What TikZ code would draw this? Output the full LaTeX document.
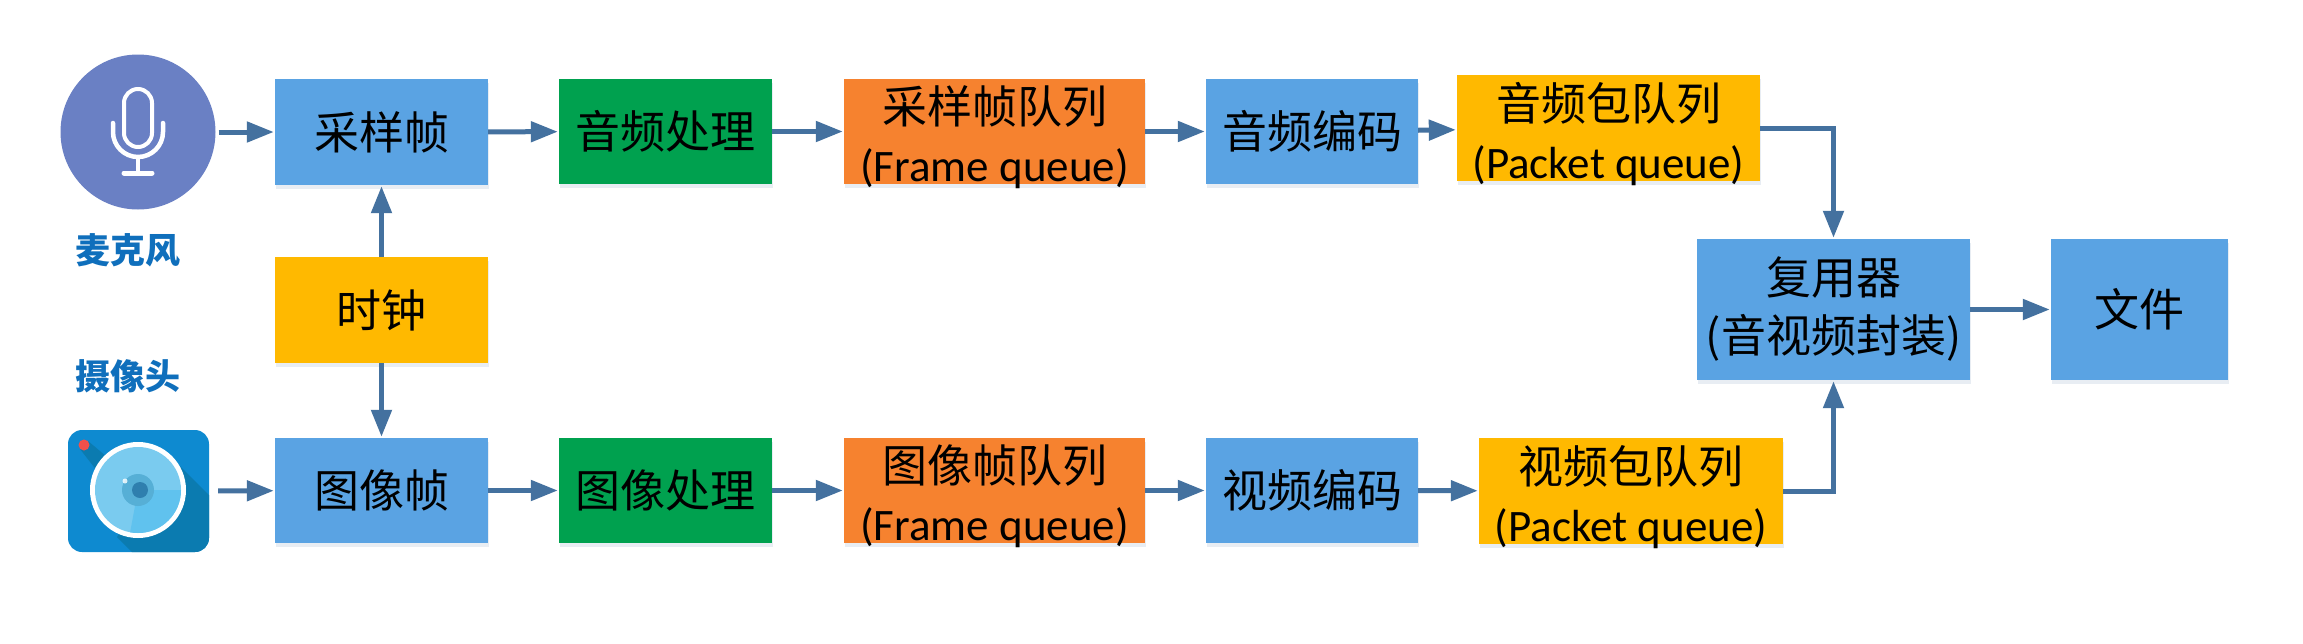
\documentclass[tikz,border=0pt]{standalone}
\usepackage{fontspec}
\setmainfont{Carlito}
\newfontfamily\cjk{Noto Sans CJK SC}
\usetikzlibrary{arrows.meta,shadows,calc}
\definecolor{boxblue}{HTML}{5AA3E3}
\definecolor{boxgreen}{HTML}{00A14F}
\definecolor{boxorange}{HTML}{F6822F}
\definecolor{boxyellow}{HTML}{FFB900}
\definecolor{arrowblue}{HTML}{44719F}
\definecolor{micblue}{HTML}{6A80C4}
\definecolor{labelblue}{HTML}{0F6FBC}
\definecolor{cambase}{HTML}{0E8AD0}
\definecolor{camdark}{HTML}{0B7BB0}
\definecolor{lens}{HTML}{7ACBEF}
\definecolor{lenslight}{HTML}{60C2EE}
\definecolor{iris}{HTML}{56AFD6}
\definecolor{pupil}{HTML}{2F7FAE}
\definecolor{camred}{HTML}{F2504B}
\tikzset{
  x=1pt,y=-1pt,
  boxbase/.style={rectangle,inner sep=0pt,align=center,text=black,
    font=\fontsize{45}{58}\selectfont\cjk,
    drop shadow={shadow xshift=1pt,shadow yshift=-4pt,opacity=.12,fill=arrowblue}},
  bluebox/.style={boxbase,fill=boxblue},
  greenbox/.style={boxbase,fill=boxgreen},
  orangebox/.style={boxbase,fill=boxorange,inner ysep=-12pt},
  yellowbox/.style={boxbase,fill=boxyellow,inner ysep=-12pt},
  conn/.style={draw=arrowblue,line width=5pt,shorten >=1pt,-{Triangle[length=27pt,width=20pt]}},
  devlabel/.style={text=labelblue,font=\fontsize{35}{38}\selectfont\cjk\bfseries,inner sep=0pt},
}
\newcommand{\en}[1]{{\fontsize{45}{58}\selectfont\rmfamily #1}}
\newcommand{\lowstrut}{\rule{0pt}{50pt}}
\newcommand{\boxat}[7]{\node[#1,minimum width=#5-#3,minimum height=#6-#4] (#2) at ({(#3+#5)/2},{(#4+#6)/2}) {#7};}
\begin{document}
\begin{tikzpicture}
\useasboundingbox (0,0) rectangle (2303,643);
\fill[white] (0,0) rectangle (2303,643);
% mic
\node[circle,fill=micblue,minimum size=155pt,inner sep=0pt] (mic) at (138,132) {};
\draw[white,line width=4pt] (124,103) arc[start angle=180,end angle=360,radius=14] -- (152,133) arc[start angle=0,end angle=180,radius=14] -- cycle;
\draw[white,line width=4.5pt,line cap=round] (113,123) -- (113,132) arc[start angle=180,end angle=0,radius=25] -- (163,123);
\draw[white,line width=4.5pt] (138,157) -- (138,173);
\draw[white,line width=5pt,line cap=round] (124,173) -- (152,173);
\node[devlabel] (miclabel) at (128,250) {麦克风};
\node[devlabel] (camlabel) at (128,376) {摄像头};
% camera
\node[rectangle,rounded corners=14pt,fill=cambase,minimum width=141pt,minimum height=122pt,inner sep=0pt] (cam) at (138.5,491) {};
\begin{scope}
\clip[rounded corners=14pt] (68,430) rectangle (209,552);
\fill[camdark] (172,458) -- (240,526) -- (240,600) -- (180,600) -- (117,537) -- cycle;
\fill[camdark] (84,441) -- (88,441) -- (125,472) -- (108,485) -- (80,449) -- cycle;
\end{scope}
\fill[camred] (84,445) circle[radius=5.5];
\fill[white] (138,490) circle[radius=48];
\fill[lens] (138,490) circle[radius=43];
\begin{scope}
\clip (138,490) circle[radius=43];
\fill[lenslight] (138,490) -- (200,490) -- (200,560) -- (125,560) -- cycle;
\end{scope}
\fill[iris] (138,490) circle[radius=16];
\fill[pupil] (140,490) circle[radius=8];
\fill[white,opacity=.8] (125,481) circle[radius=2.5];
% boxes
\boxat{bluebox}{caiyang}{275}{79}{488}{185}{采样帧}
\boxat{yellowbox}{clock}{275}{257}{488}{363}{时钟}
\boxat{bluebox}{tuxiang}{275}{438}{488}{543}{图像帧}
\boxat{greenbox}{aproc}{559}{79}{772}{184}{音频处理}
\boxat{greenbox}{vproc}{559}{438}{772}{543}{图像处理}
\boxat{orangebox}{afq}{844}{79}{1145}{184}{\lowstrut 采样帧队列\\\en{(Frame queue)}}
\boxat{orangebox}{vfq}{844}{438}{1145}{543}{\lowstrut 图像帧队列\\\en{(Frame queue)}}
\boxat{bluebox}{aenc}{1206}{79}{1418}{184}{音频编码}
\boxat{bluebox}{venc}{1206}{438}{1418}{543}{视频编码}
\boxat{yellowbox}{apq}{1457}{75}{1760}{181}{\lowstrut 音频包队列\\\en{(Packet queue)}}
\boxat{yellowbox}{vpq}{1479}{438}{1783}{544}{\lowstrut 视频包队列\\\en{(Packet queue)}}
\boxat{bluebox}{mux}{1697}{239}{1970}{380}{复用器\\(音视频封装)}
\boxat{bluebox}{file}{2051}{239}{2228}{380}{文件}
% connectors
\draw[conn,shorten <=3pt] (mic) -- (caiyang);
\draw[conn,shorten <=9pt] (cam) -- (tuxiang);
\draw[conn] (clock) -- (caiyang);
\draw[conn] (clock) -- (tuxiang);
\draw[conn] (caiyang) -- (aproc);
\draw[conn] (aproc) -- (afq);
\draw[conn] (afq) -- (aenc);
\draw[conn] (aenc) -- (apq);
\draw[conn] (tuxiang) -- (vproc);
\draw[conn] (vproc) -- (vfq);
\draw[conn] (vfq) -- (venc);
\draw[conn] (venc) -- (vpq);
\draw[conn] (apq.east) -| (mux.north);
\draw[conn] (vpq.east) -| (mux.south);
\draw[conn] (mux) -- (file);
\end{tikzpicture}
\end{document}
